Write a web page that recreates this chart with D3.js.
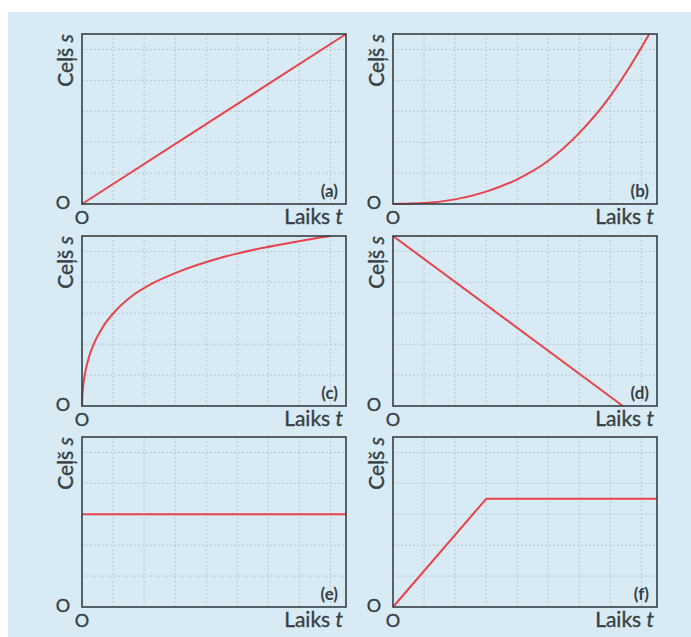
<!DOCTYPE html>
<html>
<head>
<meta charset="utf-8">
<script src="https://cdn.jsdelivr.net/npm/d3@7"></script>
<style>
  html, body { margin: 0; padding: 0; background: #ffffff; }
  svg { display: block; }
</style>
</head>
<body>
<svg id="chart" width="691" height="637"></svg>
<script>
// Distance–time graphs: six panels, time on x, distance on y (grid units)
const panelLetters = ["(a)", "(b)", "(c)", "(d)", "(e)", "(f)"];
const gridX = [1, 2, 3, 4, 5, 6, 7, 8];
const gridY = [1, 2, 3, 4, 5];
const xMax = 8.5;
const yMax = 5.5;

// (a) constant speed
const seriesA = [[0, 0], [8.5, 5.5]];
// (b) speeding up
const seriesB = [[0, 0], [1, 0.03], [2, 0.15], [3, 0.4], [4, 0.8], [5, 1.4], [6, 2.3], [7, 3.5], [7.6, 4.4], [8.25, 5.5]];
// (c) slowing down
const seriesC = [[0, 0], [0.02, 0.45], [0.08, 0.95], [0.2, 1.5], [0.4, 2.05], [0.7, 2.6], [1.1, 3.1], [1.6, 3.55], [2.3, 3.98], [3.2, 4.38], [4.3, 4.75], [5.5, 5.05], [6.8, 5.3], [8.0, 5.5]];
// (d) moving back towards the start
const seriesD = [[0, 5.5], [7.4, 0]];
// (e) standing still
const seriesE = [[0, 3.0], [8.5, 3.0]];
// (f) moving, then stopped
const seriesF = [[0, 0], [3.0, 3.5], [8.5, 3.5]];

const allSeries = [seriesA, seriesB, seriesC, seriesD, seriesE, seriesF];

const svg = d3.select("#chart");
const ink = "#353f45";
const red = "#e8434c";
const fontFamily = "Lato, 'Open Sans', sans-serif";

// light blue card behind the graphs
svg.append("rect")
  .attr("x", 8).attr("y", 12)
  .attr("width", 691 - 8).attr("height", 637 - 12)
  .attr("fill", "#d8ebf4");

const boxW = 264, boxH = 170;
const colX = [82, 393];
const rowY = [34, 236, 437];

// text helper with a faint outline to give the glyphs more weight
function label(sel, size, weight) {
  return sel.append("text")
    .attr("font-family", fontFamily)
    .attr("font-size", size)
    .attr("font-weight", weight || "normal")
    .attr("fill", ink)
    .attr("stroke", ink)
    .attr("stroke-width", 0.35);
}

allSeries.forEach((series, i) => {
  const left = colX[i % 2];
  const top = rowY[Math.floor(i / 2)];
  const g = svg.append("g").attr("transform", `translate(${left},${top})`);

  const x = d3.scaleLinear().domain([0, xMax]).range([0, boxW]);
  const y = d3.scaleLinear().domain([0, yMax]).range([boxH, 0]);

  // dotted grid
  g.append("g").selectAll("line").data(gridX).join("line")
    .attr("x1", d => x(d)).attr("x2", d => x(d))
    .attr("y1", 0).attr("y2", boxH)
    .attr("stroke", "#b9c9d1").attr("stroke-width", 1)
    .attr("stroke-dasharray", "2,2");
  g.append("g").selectAll("line").data(gridY).join("line")
    .attr("y1", d => y(d)).attr("y2", d => y(d))
    .attr("x1", 0).attr("x2", boxW)
    .attr("stroke", "#b9c9d1").attr("stroke-width", 1)
    .attr("stroke-dasharray", "2,2");

  // graph line
  const line = d3.line()
    .x(d => x(d[0])).y(d => y(d[1]))
    .curve(series.length > 3 ? d3.curveMonotoneX : d3.curveLinear);
  g.append("path").datum(series)
    .attr("d", line)
    .attr("fill", "none")
    .attr("stroke", red)
    .attr("stroke-width", 2)
    .attr("stroke-linejoin", "round");

  // frame
  g.append("rect")
    .attr("x", 0).attr("y", 0).attr("width", boxW).attr("height", boxH)
    .attr("fill", "none").attr("stroke", ink).attr("stroke-width", 1.6);

  // panel letter
  label(g, 17, "bold")
    .attr("x", boxW - 8).attr("y", boxH - 7)
    .attr("text-anchor", "end")
    .attr("stroke-width", 0)
    .text(panelLetters[i]);

  // origin marks
  label(g, 18)
    .attr("x", -19).attr("y", boxH + 5)
    .attr("text-anchor", "middle")
    .text("O");
  label(g, 18)
    .attr("x", 0).attr("y", boxH + 20)
    .attr("text-anchor", "middle")
    .text("O");

  // x-axis title
  const xt = label(g, 21)
    .attr("x", boxW - 3).attr("y", boxH + 20)
    .attr("text-anchor", "end");
  xt.append("tspan").text("Laiks ");
  xt.append("tspan").attr("font-style", "italic").text("t");

  // y-axis title
  const yt = label(g, 21)
    .attr("transform", `translate(-9,0) rotate(-90)`)
    .attr("text-anchor", "end");
  yt.append("tspan").text("Ceļš ");
  yt.append("tspan").attr("font-style", "italic").text("s");
});
</script>
</body>
</html>
